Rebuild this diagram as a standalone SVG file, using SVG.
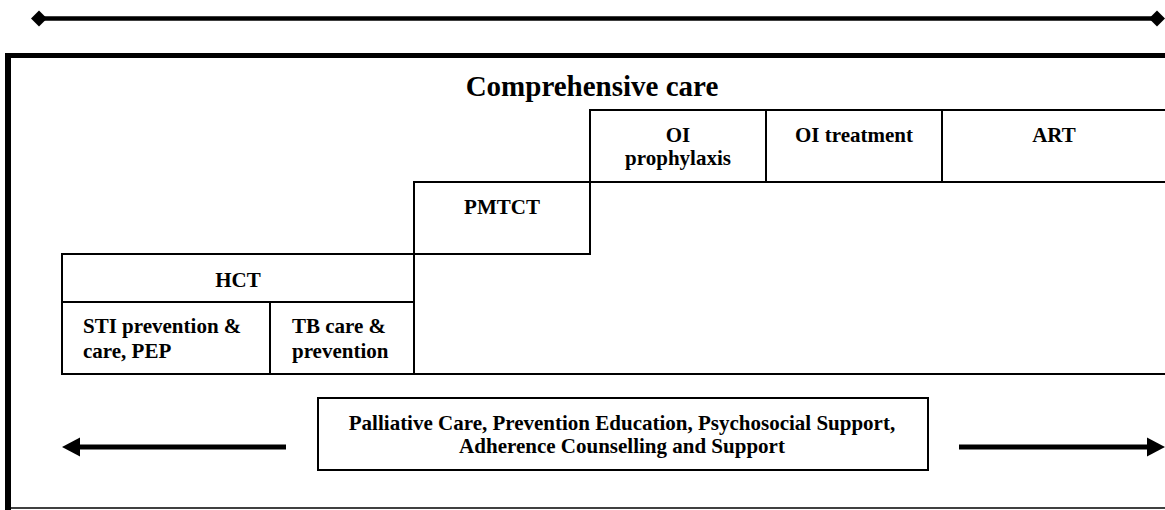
<svg xmlns="http://www.w3.org/2000/svg" width="1165" height="510" viewBox="0 0 1165 510">
<style>
text{font-family:"Liberation Serif","Times New Roman",serif;font-weight:bold;fill:#000}
.t{font-size:21px;text-anchor:middle}
.l{font-size:21px}
.title{font-size:29px;text-anchor:middle}
.box{fill:none;stroke:#000;stroke-width:2}
.ln{stroke:#000;stroke-width:2;fill:none}
.arrow{stroke:#000;stroke-width:5;fill:none}
</style>
<defs>
<marker id="dia" markerUnits="userSpaceOnUse" markerWidth="16" markerHeight="16" refX="8" refY="8" orient="auto" overflow="visible">
<path d="M0,8 L8,0 L16,8 L8,16 Z" fill="#000"/>
</marker>
<marker id="head" markerUnits="userSpaceOnUse" markerWidth="19" markerHeight="19" refX="0" refY="9.5" orient="auto" overflow="visible">
<path d="M0,0 L18,9.5 L0,19 Z" fill="#000"/>
</marker>
</defs>
<rect width="1165" height="510" fill="#fff"/>
<g id="frame">
<line x1="39" y1="18.5" x2="1157" y2="18.5" stroke="#000" stroke-width="4.5" marker-start="url(#dia)" marker-end="url(#dia)"/>
<line x1="5" y1="55.5" x2="1165" y2="55.5" stroke="#000" stroke-width="5"/>
<line x1="8" y1="53" x2="8" y2="510" stroke="#000" stroke-width="6"/>
<line x1="8" y1="508" x2="1165" y2="508" stroke="#000" stroke-width="1.5"/>
<text class="title" x="592" y="96">Comprehensive care</text>
</g>
<g id="grid-lines">
<line class="ln" x1="590" y1="110" x2="1166" y2="110"/>
<line class="ln" x1="590" y1="182" x2="1166" y2="182"/>
<line class="ln" x1="62" y1="374" x2="1166" y2="374"/>
</g>
<g id="oi-prophylaxis">
<rect class="box" x="590" y="110" width="176" height="72"/>
<text class="t" x="678" y="142">OI</text>
<text class="t" x="678" y="165">prophylaxis</text>
</g>
<g id="oi-treatment">
<rect class="box" x="766" y="110" width="176" height="72"/>
<text class="t" x="854" y="142">OI treatment</text>
</g>
<g id="art">
<line class="ln" x1="942" y1="110" x2="942" y2="182"/>
<text class="t" x="1054" y="142">ART</text>
</g>
<g id="pmtct">
<rect class="box" x="414" y="182" width="176" height="72"/>
<text class="t" x="502" y="214">PMTCT</text>
</g>
<g id="hct">
<rect class="box" x="62" y="254" width="352" height="48"/>
<text class="t" x="238" y="287">HCT</text>
</g>
<g id="sti">
<rect class="box" x="62" y="302" width="208" height="72"/>
<text class="l" x="83" y="333">STI prevention &amp;</text>
<text class="l" x="83" y="358">care, PEP</text>
</g>
<g id="tb">
<rect class="box" x="270" y="302" width="144" height="72"/>
<text class="l" x="292" y="333">TB care &amp;</text>
<text class="l" x="292" y="358">prevention</text>
</g>
<g id="palliative">
<rect class="box" x="318" y="398" width="610" height="72"/>
<text class="t" x="622" y="430">Palliative Care, Prevention Education, Psychosocial Support,</text>
<text class="t" x="622" y="453">Adherence Counselling and Support</text>
</g>
<g id="connectors">
<line class="arrow" x1="286" y1="447" x2="80" y2="447" marker-end="url(#head)"/>
<line class="arrow" x1="959" y1="447" x2="1147" y2="447" marker-end="url(#head)"/>
</g>
</svg>
